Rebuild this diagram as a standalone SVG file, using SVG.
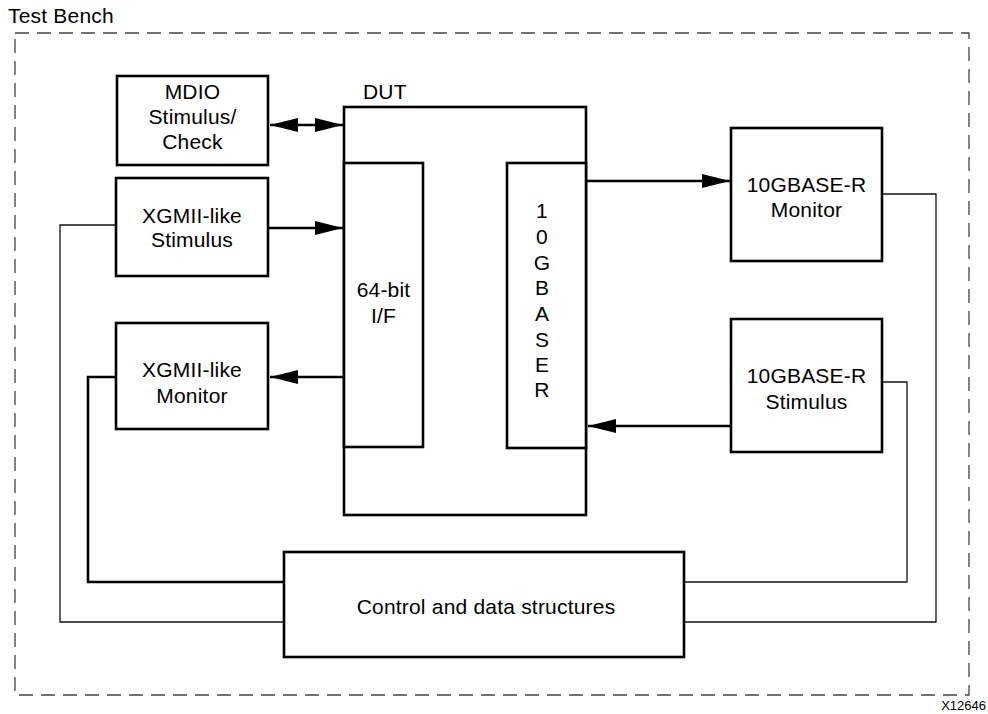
<svg xmlns="http://www.w3.org/2000/svg" width="988" height="714" viewBox="0 0 988 714">
  <style>
    .box { fill: #fff; stroke: #000; stroke-width: 2.6; }
    .thick { fill: none; stroke: #000; stroke-width: 2.6; }
    .thin { fill: none; stroke: #111; stroke-width: 1.3; }
    .t { font-family: "Liberation Sans", Arial, Helvetica, sans-serif; font-size: 21px; letter-spacing: 0.2px; fill: #000; }
    .c { text-anchor: middle; }
  </style>
  <defs>
    <marker id="ah" markerUnits="userSpaceOnUse" markerWidth="29" markerHeight="15" refX="28" refY="7" orient="auto-start-reverse" viewBox="0 0 29 14">
      <path d="M0,0 L28,7 L0,14 z" fill="#000"/>
    </marker>
  </defs>
  <rect width="988" height="714" fill="#fff"/>

  <g id="testbench">
    <rect x="15" y="33" width="954" height="662" fill="none" stroke="#444" stroke-width="1.3" stroke-dasharray="14 8"/>
    <text class="t" x="8" y="23">Test Bench</text>
  </g>

  <g id="connectors">
    <line class="thick" x1="270" y1="125" x2="343" y2="125" marker-start="url(#ah)" marker-end="url(#ah)"/>
    <line class="thick" x1="268" y1="228" x2="343" y2="228" marker-end="url(#ah)"/>
    <line class="thick" x1="344" y1="377" x2="270" y2="377" marker-end="url(#ah)"/>
    <line class="thick" x1="586" y1="181" x2="730" y2="181" marker-end="url(#ah)"/>
    <line class="thick" x1="731" y1="426" x2="588" y2="426" marker-end="url(#ah)"/>
    <polyline class="thin" points="116,225 60,225 60,622 284,622"/>
    <polyline class="thick" points="116,377 88,377 88,582 284,582"/>
    <polyline class="thin" points="882,194 936,194 936,622 684,622"/>
    <polyline class="thin" points="882,382 907,382 907,582 684,582"/>
  </g>

  <g id="mdio">
    <rect class="box" x="117" y="76" width="151" height="89"/>
    <text class="t c" x="192.5" y="99">MDIO</text>
    <text class="t c" x="192.5" y="124">Stimulus/</text>
    <text class="t c" x="192.5" y="149">Check</text>
  </g>

  <g id="xgmii-stimulus">
    <rect class="box" x="116" y="178" width="152" height="98"/>
    <text class="t c" x="192" y="223">XGMII-like</text>
    <text class="t c" x="192" y="247">Stimulus</text>
  </g>

  <g id="xgmii-monitor">
    <rect class="box" x="116" y="323" width="152" height="106"/>
    <text class="t c" x="192" y="377">XGMII-like</text>
    <text class="t c" x="192" y="403">Monitor</text>
  </g>

  <g id="dut">
    <rect class="box" x="344" y="107" width="242" height="408"/>
    <text class="t" x="363" y="99">DUT</text>
  </g>

  <g id="if64">
    <rect class="box" x="344" y="163" width="79" height="284"/>
    <text class="t c" x="383.5" y="297">64-bit</text>
    <text class="t c" x="383.5" y="323">I/F</text>
  </g>

  <g id="tenGbaseR">
    <rect class="box" x="507" y="163" width="79" height="285"/>
    <text class="t c" x="542" y="218">1</text>
    <text class="t c" x="542" y="244">0</text>
    <text class="t c" x="542" y="270">G</text>
    <text class="t c" x="542" y="295">B</text>
    <text class="t c" x="542" y="321">A</text>
    <text class="t c" x="542" y="347">S</text>
    <text class="t c" x="542" y="372">E</text>
    <text class="t c" x="542" y="397">R</text>
  </g>

  <g id="tenG-monitor">
    <rect class="box" x="731" y="128" width="151" height="133"/>
    <text class="t c" x="806.5" y="192">10GBASE-R</text>
    <text class="t c" x="806.5" y="217">Monitor</text>
  </g>

  <g id="tenG-stimulus">
    <rect class="box" x="731" y="319" width="151" height="133"/>
    <text class="t c" x="806.5" y="383">10GBASE-R</text>
    <text class="t c" x="806.5" y="409">Stimulus</text>
  </g>

  <g id="control">
    <rect class="box" x="284" y="552" width="400" height="105"/>
    <text class="t c" x="486" y="614">Control and data structures</text>
  </g>

  <text x="986" y="710" text-anchor="end" font-family="Liberation Sans, Arial, sans-serif" font-size="13" fill="#000">X12646</text>
</svg>
